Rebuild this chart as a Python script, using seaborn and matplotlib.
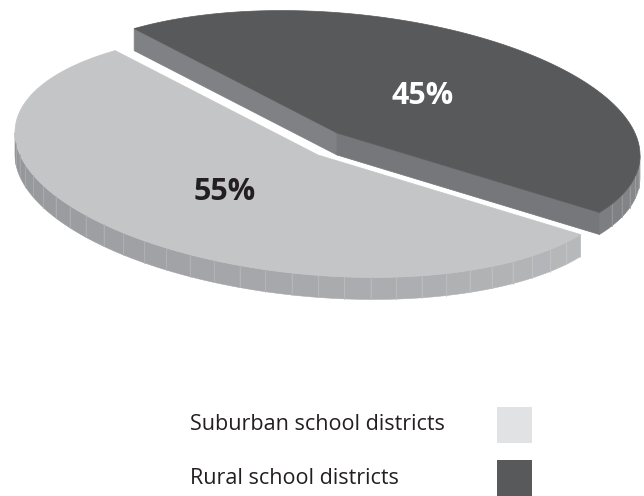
import numpy as np
import seaborn as sns
import matplotlib.pyplot as plt
from matplotlib.patches import Polygon, Rectangle
from matplotlib.colors import to_rgb

# data
categories = ["Suburban school districts", "Rural school districts"]
shares = [55, 45]
pct_labels = ["55%", "45%"]
top_colors = ["#c4c5c7", "#58595b"]
legend_colors = ["#e1e2e3", "#58595b"]

sns.set_theme(style="white")
plt.rcParams['font.family'] = ['Open Sans', 'DejaVu Sans']

# pie geometry in pixel units (y grows downward)
A, B = 304, 120          # ellipse half axes
PHI = np.radians(-5)     # tilt
DEPTH = 22               # thickness of the disk
START = 134              # start angle of first slice (deg)
centers = [(318, 155), (337, 133)]   # second slice pulled out
side_light = [("#949599", "#b8b9bb"), ("#7d7e81", "#8f9093")]
cut_colors = ["#808184", "#76777a"]


def pt(t, c, dy=0):
    x = A * np.cos(t) * np.cos(PHI) - B * np.sin(t) * np.sin(PHI)
    y = A * np.cos(t) * np.sin(PHI) + B * np.sin(t) * np.cos(PHI)
    return np.column_stack([c[0] + x, c[1] - y + dy])


def mix(c1, c2, f):
    a, b = np.array(to_rgb(c1)), np.array(to_rgb(c2))
    return tuple(a + (b - a) * f)


# left/right silhouette of the tilted ellipse -> visible outer wall
t_vis0 = np.degrees(np.arctan(-B * np.sin(PHI) / (A * np.cos(PHI)))) + 180

fig = plt.figure(figsize=(6.44, 4.96), dpi=100)
ax = fig.add_axes([0, 0, 1, 1])
ax.set_xlim(0, 644)
ax.set_ylim(496, 0)
ax.axis('off')

# slice angle ranges (counter clockwise from START, first slice = suburban)
ranges = []
a0 = START
for s in shares:
    span = s / sum(shares) * 360
    ranges.append((a0, a0 + span))
    a0 += span

# back slice (rural) first, then the front one
for i in [1, 0]:
    c = centers[i]
    t0, t1 = ranges[i]
    # outer wall, faceted
    lo, hi = max(t0, t_vis0), min(t1, t_vis0 + 180)
    if hi > lo:
        edges = np.append(np.arange(lo, hi, 5.0), hi)
        for k in range(len(edges) - 1):
            ts = np.radians(np.linspace(edges[k], edges[k + 1], 6))
            top = pt(ts, c)
            bot = pt(ts, c, DEPTH)[::-1]
            f = (edges[k] - lo) / max(hi - lo, 1e-6)
            col = mix(side_light[i][0], side_light[i][1], f)
            ax.add_patch(Polygon(np.vstack([top, bot]), closed=True, fc=col,
                                 ec=col, lw=0.4))
            if k > 0:
                ax.plot(top[[0], 0].repeat(2), [top[0, 1], top[0, 1] + DEPTH],
                        color=mix(col, "#ffffff", 0.18), lw=0.6)
    # cut faces (only visible on the pulled out rural slice)
    if i == 1:
        for t_edge, col in zip([t1, t0], cut_colors):
            p = pt(np.radians([t_edge]), c)[0]
            poly = [c, p, (p[0], p[1] + DEPTH), (c[0], c[1] + DEPTH)]
            ax.add_patch(Polygon(poly, closed=True, fc=col, ec=col, lw=0.5))
    # top face
    ts = np.radians(np.linspace(t0, t1, 200))
    top = np.vstack([[c], pt(ts, c)])
    ax.add_patch(Polygon(top, closed=True, fc=top_colors[i], ec=top_colors[i], lw=0.5))

# percentage labels
label_colors = ["#231f20", "#ffffff"]
for i in range(len(shares)):
    tm = np.radians(sum(ranges[i]) / 2)
    c = centers[i]
    x = 0.47 * (A * np.cos(tm) * np.cos(PHI) - B * np.sin(tm) * np.sin(PHI))
    y = 0.47 * (A * np.cos(tm) * np.sin(PHI) + B * np.sin(tm) * np.cos(PHI))
    ax.text(c[0] + x - 4, c[1] - y, pct_labels[i], ha='center', va='center',
            fontsize=22, fontweight='bold', color=label_colors[i])

# legend
for i, name in enumerate(categories):
    yc = 425 + i * 53
    ax.text(190, yc, name, ha='left', va='center', fontsize=15.5, color="#231f20")
    ax.add_patch(Rectangle((497, yc - 18), 35, 36, fc=legend_colors[i], ec='none'))

fig.savefig("out.png", dpi=100)
